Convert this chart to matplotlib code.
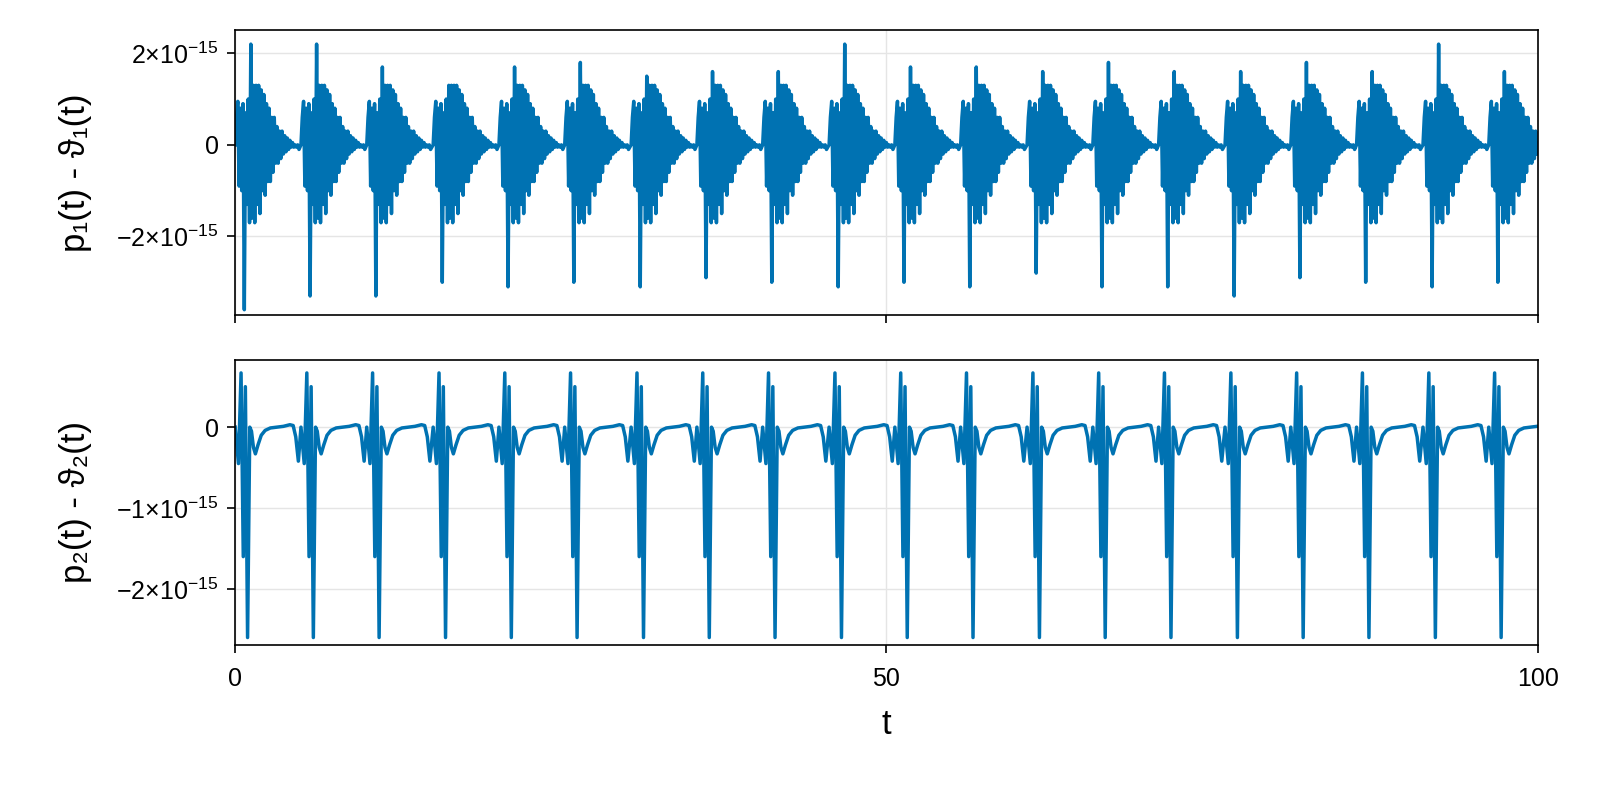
import numpy as np
import matplotlib
matplotlib.use("Agg")
import matplotlib.pyplot as plt

plt.rcParams['font.family'] = ['Liberation Sans', 'DejaVu Sans']
plt.rcParams['mathtext.fontset'] = 'custom'
plt.rcParams['mathtext.rm'] = 'Liberation Sans'

# cycle start times
cycle_starts = [0.0, 5.05, 10.1, 15.2, 20.25, 25.3, 30.4, 35.45, 40.5, 45.6,
                50.65, 55.7, 60.8, 65.85, 70.9, 76.0, 81.05, 86.1, 91.2, 96.25]

top_cycle = [0.0, 0.6, 0.95, -0.9, 0.8, -1.0, 0.9, -2.4, 0.7, -1.3, 1.0, -1.7,
             1.6, -1.6, 1.3, -1.7, 1.3, -1.3, 1.3, -1.5, 1.2, -1.0, 1.1, -1.1,
             0.9, -0.8, 0.8, -0.8, 0.6, -0.6, 0.6, -0.4, 0.4, -0.4, 0.3, -0.3,
             0.3, -0.2, 0.2, -0.15, 0.15, -0.1, 0.1, -0.05, 0.05, -0.05, 0.0, -0.05, 0.0, -0.1]
top_max = [2.2, 2.2, 1.7, 1.3, 1.7, 1.8, 1.5, 1.6, 1.6, 2.2,
           1.7, 1.7, 1.6, 1.8, 1.6, 1.6, 1.8, 1.6, 2.2, 1.6]
top_min = [-3.6, -3.3, -3.3, -3.0, -3.1, -3.0, -3.1, -2.9, -3.0, -3.1,
           -3.0, -3.1, -2.8, -3.1, -3.1, -3.3, -2.9, -3.0, -3.1, -3.0]

# bottom panel: one cycle (units of 1e-15)
bot_dt = [0.0, 0.25, 0.45, 0.62, 0.78, 0.95, 1.12, 1.25, 1.4, 1.55, 1.75, 2.0, 2.3, 2.7, 3.2, 3.7, 4.2, 4.45, 4.65, 4.85]
bot_val = [0.0, -0.45, 0.67, -1.6, 0.5, -2.6, 0.0, -0.05, -0.25, -0.33, -0.22, -0.1, -0.04, -0.01, 0.0, 0.01, 0.03, 0.02, -0.12, -0.42]

t1, y1, t2, y2 = [], [], [], []
dt = 0.1
for k, s in enumerate(cycle_starts):
    vals = list(top_cycle)
    vals[12] = top_max[k]
    vals[7] = top_min[k]
    for i, v in enumerate(vals):
        t1.append(s + i * dt); y1.append(v)
    for d, v in zip(bot_dt, bot_val):
        t2.append(s + d); y2.append(v)
t1 = np.array(t1); y1 = np.array(y1) * 1e-15
t2 = np.array(t2); y2 = np.array(y2) * 1e-15
m = t1 <= 100; t1, y1 = t1[m], y1[m]
m = t2 <= 100; t2, y2 = t2[m], y2[m]

fig = plt.figure(figsize=(16, 8), dpi=100)
ax1 = fig.add_axes([0.147, 0.606, 0.814, 0.356])
ax2 = fig.add_axes([0.147, 0.194, 0.814, 0.356])
col = '#0072B2'
ax1.plot(t1, y1, color=col, lw=2.5)
ax2.plot(t2, y2, color=col, lw=2.5)

def fmt(v):
    if v == 0:
        return '0'
    sign = '−' if v < 0 else ''
    return r'$%s%d{\times}10^{-15}$' % (sign, abs(v))

for ax, yt, yl, lab in [(ax1, [-2, 0, 2], (-3.72, 2.5), 'p₁(t) - ϑ₁(t)'),
                        (ax2, [-2, -1, 0], (-2.69, 0.83), 'p₂(t) - ϑ₂(t)')]:
    ax.set_xlim(0, 100)
    ax.set_ylim(yl[0] * 1e-15, yl[1] * 1e-15)
    ax.set_yticks([v * 1e-15 for v in yt])
    ax.set_yticklabels([fmt(v) for v in yt], fontsize=18)
    ax.set_xticks([0, 50, 100])
    ax.grid(True, color='#e5e5e5', lw=1)
    ax.set_axisbelow(True)
    ax.tick_params(direction='out', length=6, width=1.2, labelsize=18, pad=6)
    ax.tick_params(axis='x', pad=10)
    for sp in ax.spines.values():
        sp.set_linewidth(1.2)
    ax.set_ylabel(lab, fontsize=25)
ax1.set_xticklabels([])
ax1.yaxis.set_label_coords(-0.11, 0.5)
ax2.yaxis.set_label_coords(-0.11, 0.5)
ax2.set_xlabel('t', fontsize=25, labelpad=12)
fig.savefig('out.png', dpi=100)
